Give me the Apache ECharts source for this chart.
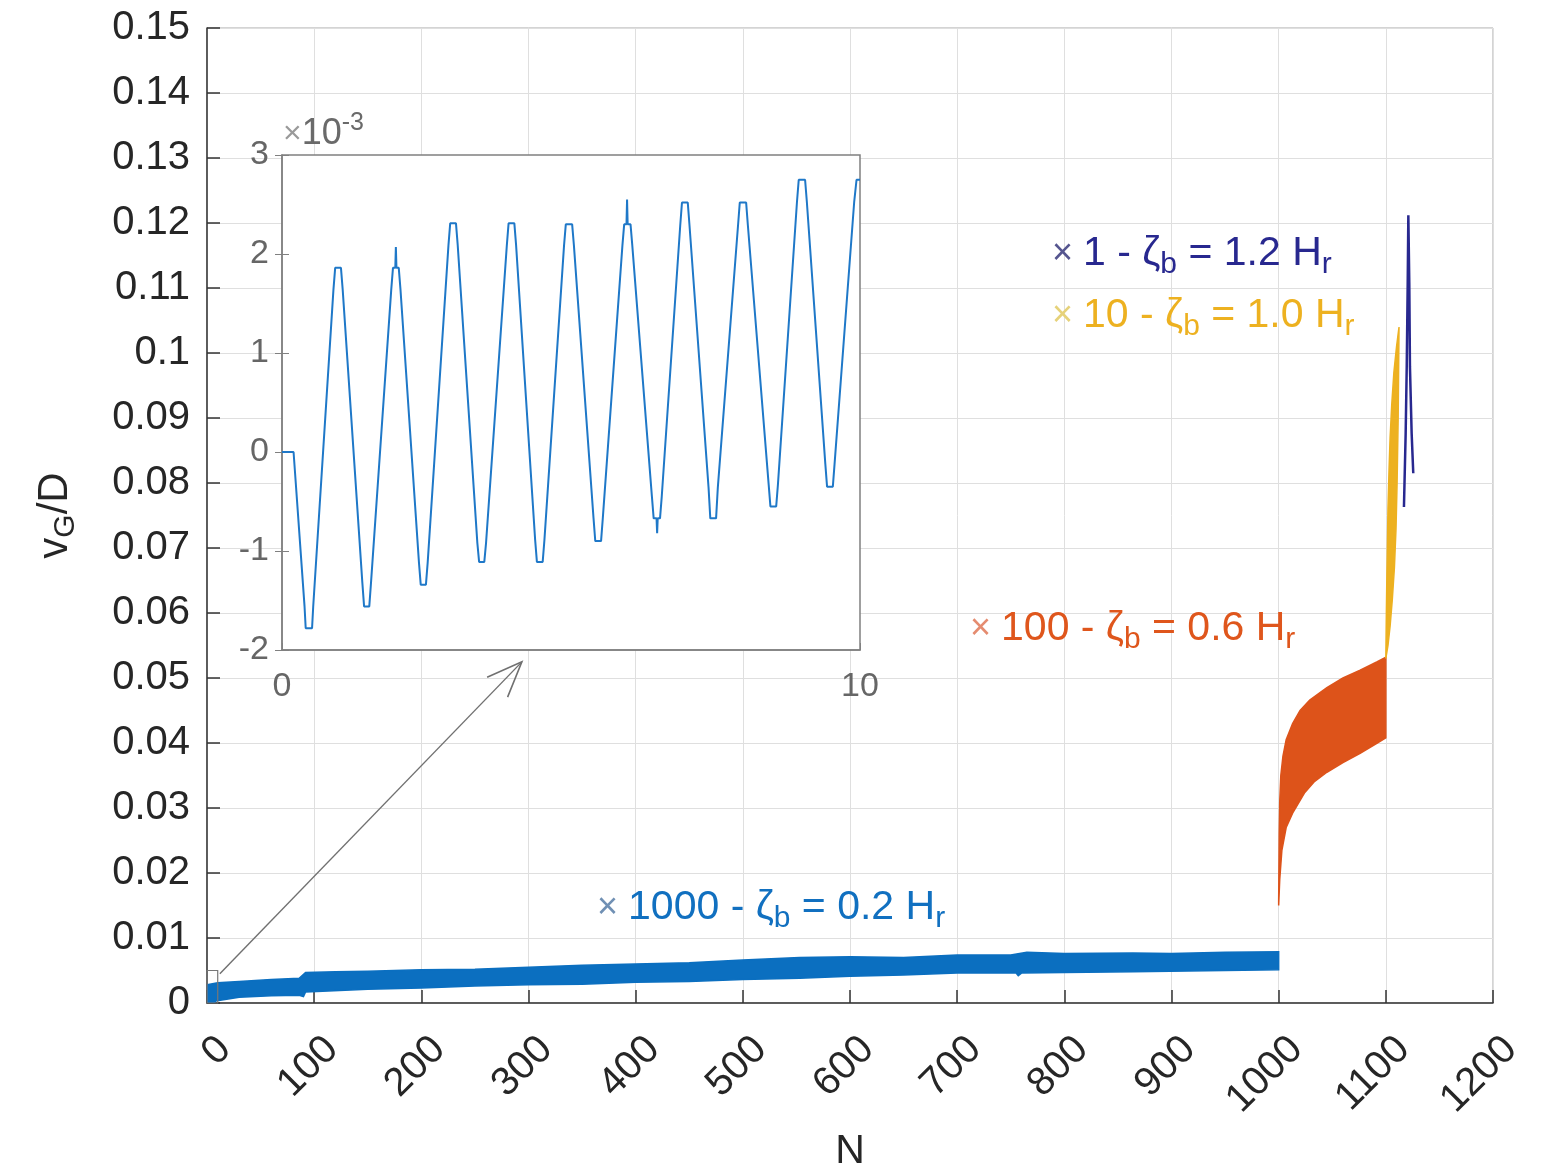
<!DOCTYPE html>
<html>
<head>
<meta charset="utf-8">
<script src="https://cdn.jsdelivr.net/npm/echarts@6/dist/echarts.min.js"></script>
<style>
html, body { margin: 0; padding: 0; background: #fff; }
#chart { width: 1541px; height: 1168px; }
</style>
</head>
<body>
<div id="chart"></div>
<script>
// envelopes of the dense oscillating runs, [N, vG/D]
var blueUpper = [[0, 0.0028], [10, 0.0031], [30, 0.0033], [60, 0.0036], [86, 0.0038], [92, 0.0047], [120, 0.0048], [150, 0.0049], [200, 0.0051], [250, 0.0052], [300, 0.0055], [350, 0.0058], [400, 0.0060], [450, 0.0062], [500, 0.0066], [553, 0.0070], [600, 0.0071], [650, 0.0070], [700, 0.0074], [750, 0.0074], [765, 0.0078], [800, 0.0076], [864, 0.0077], [900, 0.0076], [950, 0.0078], [1000, 0.0079]];
var blueLower = [[0, -0.002], [8, 0.0003], [30, 0.0009], [60, 0.0011], [86, 0.0012], [90, 0.0010], [92, 0.0017], [150, 0.0021], [200, 0.0023], [250, 0.0026], [300, 0.0028], [350, 0.0029], [400, 0.0032], [450, 0.0033], [500, 0.0036], [553, 0.0038], [600, 0.0041], [650, 0.0043], [700, 0.0046], [755, 0.0046], [757, 0.0042], [760, 0.0046], [800, 0.0047], [864, 0.0048], [950, 0.0050], [1000, 0.0051]];

var orangeUpper = [[1000, 0.0155], [1000.5, 0.026], [1001, 0.031], [1002, 0.035], [1004, 0.038], [1007, 0.0405], [1013, 0.043], [1020, 0.045], [1029, 0.0466], [1045, 0.0485], [1060, 0.050], [1076, 0.0512], [1092, 0.0525], [1100, 0.0532]];
var orangeLower = [[1000, 0.0150], [1001, 0.019], [1003, 0.0235], [1007, 0.027], [1013, 0.0292], [1024, 0.0323], [1033, 0.034], [1045, 0.0355], [1060, 0.037], [1076, 0.0384], [1092, 0.040], [1100, 0.0408]];

var yellowUpper = [[1100, 0.053], [1100.5, 0.060], [1101, 0.066], [1101.5, 0.071], [1102, 0.076], [1103, 0.082], [1104, 0.087], [1105.5, 0.092], [1107.5, 0.097], [1110, 0.101], [1112.3, 0.104]];
var yellowLower = [[1100, 0.053], [1102, 0.055], [1104, 0.058], [1106, 0.062], [1108, 0.067], [1109.5, 0.073], [1110.5, 0.080], [1111.5, 0.090], [1112.3, 0.104]];

var navyLine = [[1116.9, 0.0763], [1118.5, 0.0876], [1119.5, 0.0979], [1120.4, 0.1107], [1121.0, 0.1212], [1121.9, 0.1107], [1122.5, 0.0979], [1124.1, 0.0876], [1125.6, 0.0815]];

// inset: first 10 cycles, values in units of 1e-3
var insetLine = [[0, 0], [0.2, 0],
  [0.39, -1.56], [0.41, -1.78], [0.52, -1.78], [0.54, -1.56],
  [0.89, 1.64], [0.92, 1.86], [1.02, 1.86], [1.05, 1.64],
  [1.39, -1.32], [1.42, -1.56], [1.51, -1.56], [1.54, -1.32],
  [1.89, 1.64], [1.92, 1.86], [1.96, 1.86], [1.97, 2.07], [1.98, 1.86], [2.02, 1.86], [2.05, 1.64],
  [2.37, -1.12], [2.40, -1.34], [2.49, -1.34], [2.52, -1.12],
  [2.88, 2.09], [2.91, 2.31], [3.01, 2.31], [3.04, 2.09],
  [3.38, -0.92], [3.41, -1.11], [3.50, -1.11], [3.53, -0.92],
  [3.89, 2.09], [3.92, 2.31], [4.02, 2.31], [4.05, 2.09],
  [4.38, -0.89], [4.41, -1.11], [4.51, -1.11], [4.54, -0.89],
  [4.88, 2.09], [4.91, 2.30], [5.02, 2.30], [5.05, 2.09],
  [5.39, -0.67], [5.42, -0.90], [5.52, -0.90], [5.55, -0.67],
  [5.89, 2.09], [5.92, 2.30], [5.96, 2.30], [5.97, 2.55], [5.98, 2.30], [6.03, 2.30], [6.06, 2.09],
  [6.40, -0.45], [6.43, -0.67], [6.48, -0.67], [6.49, -0.82], [6.50, -0.67], [6.54, -0.67], [6.57, -0.45],
  [6.89, 2.29], [6.92, 2.52], [7.02, 2.52], [7.05, 2.29],
  [7.38, -0.36], [7.41, -0.67], [7.51, -0.67], [7.54, -0.36],
  [7.89, 2.29], [7.92, 2.52], [8.03, 2.52], [8.06, 2.29],
  [8.42, -0.33], [8.45, -0.55], [8.55, -0.55], [8.58, -0.33],
  [8.91, 2.53], [8.94, 2.75], [9.05, 2.75], [9.08, 2.53],
  [9.40, -0.12], [9.43, -0.35], [9.53, -0.35], [9.56, -0.12],
  [9.90, 2.53], [9.94, 2.75], [10, 2.75]];

var insetXTicks = [0, 10];
var labels = [
  { pre: '1', zeta: '1.2', color: '#28288f', cross: '#55558f', x: 1052, y: 254 },
  { pre: '10', zeta: '1.0', color: '#edb120', cross: '#e6d27a', x: 1052, y: 316 },
  { pre: '100', zeta: '0.6', color: '#df561c', cross: '#e58c70', x: 970, y: 629 },
  { pre: '1000', zeta: '0.2', color: '#1170c0', cross: '#7090b4', x: 597, y: 908 }
];

var FONT = '"Liberation Sans", Arial, sans-serif';
var chart = echarts.init(document.getElementById('chart'));

function band(upper, lower, color) {
  return {
    type: 'custom',
    xAxisIndex: 0,
    yAxisIndex: 0,
    clip: true,
    z: 2,
    data: [upper[0]],
    renderItem: function (params, api) {
      var pts = upper.map(function (p) { return api.coord(p); })
        .concat(lower.slice().reverse().map(function (p) { return api.coord(p); }));
      return {
        type: 'polygon',
        shape: { points: pts },
        style: { fill: color, stroke: color, lineWidth: 1.5 }
      };
    }
  };
}

var option = {
  backgroundColor: '#fff',
  animation: false,
  grid: [
    { left: 207, right: 48, top: 28, bottom: 165, show: true, borderColor: '#a8a8a8', borderWidth: 1,
      outerBoundsMode: 'none', containLabel: false },
    { left: 282, top: 155, width: 578, height: 495, show: true, backgroundColor: '#fff',
      borderColor: '#808080', borderWidth: 1.5, z: 5, outerBoundsMode: 'none', containLabel: false }
  ],
  xAxis: [
    {
      type: 'value', gridIndex: 0, min: 0, max: 1200, interval: 100,
      name: 'N', nameLocation: 'middle', nameGap: 128,
      nameTextStyle: { fontSize: 41, color: '#262626', fontFamily: FONT },
      axisLine: { lineStyle: { color: '#333', width: 1.5 } },
      axisTick: { inside: true, length: 13, lineStyle: { color: '#333', width: 1.5 } },
      axisLabel: { rotate: 45, fontSize: 40, color: '#262626', fontFamily: FONT, margin: 58,
        padding: [0, -25, 0, 0],
        formatter: function (v) { return String(v); } },
      splitLine: { lineStyle: { color: '#dfdfdf', width: 1 } }
    },
    {
      type: 'value', gridIndex: 1, min: 0, max: 10, interval: 10, z: 6,
      axisLine: { onZero: false, lineStyle: { color: '#808080', width: 1.5 } },
      axisTick: { inside: true, length: 7, lineStyle: { color: '#808080' } },
      axisLabel: { fontSize: 34, color: '#666', fontFamily: FONT, margin: 20,
        customValues: insetXTicks },
      splitLine: { show: false }
    }
  ],
  yAxis: [
    {
      type: 'value', gridIndex: 0, min: 0, max: 0.15, interval: 0.01,
      name: '{v|v}{g|G}{v|/D}', nameLocation: 'middle', nameGap: 126, nameRotate: 90,
      nameTextStyle: {
        fontFamily: FONT, color: '#262626',
        rich: {
          v: { fontSize: 42, lineHeight: 52, color: '#262626', fontFamily: FONT },
          g: { fontSize: 30, lineHeight: 20, verticalAlign: 'bottom', color: '#262626', fontFamily: FONT }
        }
      },
      axisLine: { lineStyle: { color: '#333', width: 1.5 } },
      axisTick: { inside: true, length: 13, lineStyle: { color: '#333', width: 1.5 } },
      axisLabel: { fontSize: 40, color: '#262626', fontFamily: FONT, margin: 17 },
      splitLine: { lineStyle: { color: '#dfdfdf', width: 1 } }
    },
    {
      type: 'value', gridIndex: 1, min: -2, max: 3, interval: 1, z: 6,
      axisLine: { onZero: false, lineStyle: { color: '#808080', width: 1.5 } },
      axisTick: { inside: true, length: 7, lineStyle: { color: '#808080' } },
      axisLabel: { fontSize: 34, color: '#666', fontFamily: FONT, margin: 13 },
      splitLine: { show: false }
    },
    {
      type: 'value', gridIndex: 1, position: 'right', min: -2, max: 3, interval: 1, z: 6,
      axisLine: { show: false },
      axisTick: { inside: true, length: 7, lineStyle: { color: '#808080' } },
      axisLabel: { show: false },
      splitLine: { show: false }
    }
  ],
  series: [
    band(blueUpper, blueLower, '#0b6fc0'),
    band(orangeUpper, orangeLower, '#dd531a'),
    band(yellowUpper, yellowLower, '#edb120'),
    {
      type: 'line', xAxisIndex: 0, yAxisIndex: 0, data: navyLine, showSymbol: false, z: 3,
      lineStyle: { color: '#28288f', width: 2.5 }
    },
    {
      type: 'line', xAxisIndex: 1, yAxisIndex: 1, data: insetLine, showSymbol: false, z: 7,
      lineStyle: { color: '#1f78c8', width: 2 }
    }
  ]
};
chart.setOption(option);

// annotation texts, zoom box and arrow
var graphics = labels.map(function (l) {
  return {
    type: 'text', z: 100,
    style: {
      x: l.x, y: l.y, verticalAlign: 'middle', align: 'left',
      text: '{x|\u00d7 }{m|' + l.pre + ' - \u03b6}{s|b}{m| = ' + l.zeta + ' H}{s|r}',
      rich: {
        x: { fontSize: 36, lineHeight: 52, fill: l.cross, fontFamily: FONT },
        m: { fontSize: 41, lineHeight: 52, fill: l.color, fontFamily: FONT },
        s: { fontSize: 30, lineHeight: 22, verticalAlign: 'bottom', fill: l.color, fontFamily: FONT }
      }
    }
  };
});

graphics.push({
  type: 'text', z: 100,
  style: {
    x: 283, y: 134, verticalAlign: 'middle', align: 'left',
    text: '{x|\u00d7}{m|10}{p|-3}',
    rich: {
      x: { fontSize: 32, lineHeight: 46, fill: '#9a9a9a', fontFamily: FONT },
      m: { fontSize: 36, lineHeight: 46, fill: '#6a6a6a', fontFamily: FONT },
      p: { fontSize: 25, lineHeight: 20, verticalAlign: 'top', fill: '#6a6a6a', fontFamily: FONT }
    }
  }
});

var b0 = chart.convertToPixel({ xAxisIndex: 0, yAxisIndex: 0 }, [0, 0]);
var b1 = chart.convertToPixel({ xAxisIndex: 0, yAxisIndex: 0 }, [10, 0.005]);
graphics.push({
  type: 'rect', z: 50,
  shape: { x: b0[0], y: b1[1], width: b1[0] - b0[0], height: b0[1] - b1[1] },
  style: { fill: 'none', stroke: '#777', lineWidth: 1.2 }
});

var a0 = chart.convertToPixel({ xAxisIndex: 0, yAxisIndex: 0 }, [12, 0.0045]);
var a1 = chart.convertToPixel({ xAxisIndex: 1, yAxisIndex: 1 }, [4.15, -2.12]);
var dx = a1[0] - a0[0], dy = a1[1] - a0[1];
var len = Math.sqrt(dx * dx + dy * dy);
var ux = dx / len, uy = dy / len;
var headLen = 38, ang = 22 * Math.PI / 180;
function rot(x, y, a) { return [x * Math.cos(a) - y * Math.sin(a), x * Math.sin(a) + y * Math.cos(a)]; }
var h1 = rot(-ux, -uy, ang), h2 = rot(-ux, -uy, -ang);
graphics.push({
  type: 'line', z: 50,
  shape: { x1: a0[0], y1: a0[1], x2: a1[0], y2: a1[1] },
  style: { stroke: '#707070', lineWidth: 1.4 }
});
graphics.push({
  type: 'polyline', z: 50,
  shape: { points: [[a1[0] + h1[0] * headLen, a1[1] + h1[1] * headLen], a1, [a1[0] + h2[0] * headLen, a1[1] + h2[1] * headLen]] },
  style: { stroke: '#707070', lineWidth: 1.6, fill: 'none' }
});

chart.setOption({ graphic: graphics });
</script>
</body>
</html>
